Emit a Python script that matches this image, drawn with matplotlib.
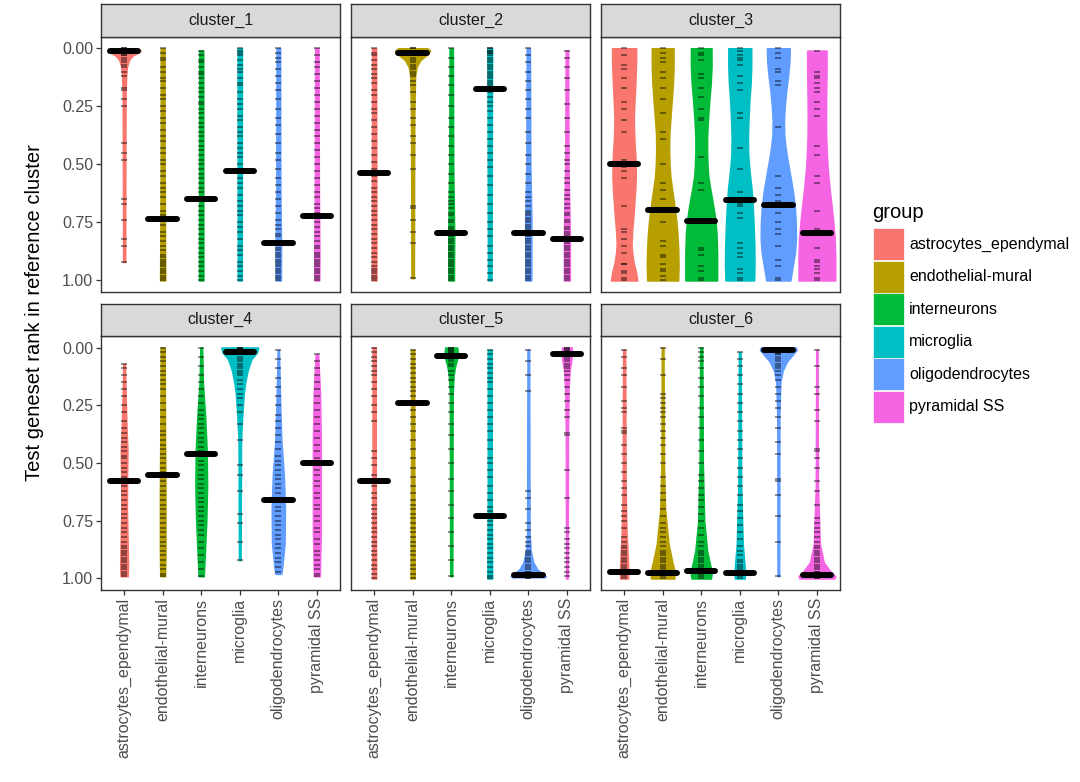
import numpy as np
import matplotlib
matplotlib.use("Agg")
import matplotlib.pyplot as plt
from matplotlib.patches import Rectangle

plt.rcParams['font.family'] = ['Liberation Sans', 'DejaVu Sans']

groups = ["astrocytes_ependymal", "endothelial-mural", "interneurons",
          "microglia", "oligodendrocytes", "pyramidal SS"]
colors = ["#F8766D", "#B79F00", "#00BA38", "#00BFC4", "#619CFF", "#F564E3"]
clusters = ["cluster_1", "cluster_2", "cluster_3", "cluster_4", "cluster_5", "cluster_6"]

# median rank (percent) per group
medians_c1 = [1, 73.6, 64.8, 52.8, 83.8, 72.3]
medians_c2 = [53.8, 1.9, 79.5, 17.5, 79.5, 82]
medians_c3 = [50, 69.7, 74.3, 65.4, 67.5, 79.5]
medians_c4 = [57.7, 55.4, 46, 1.9, 66, 50]
medians_c5 = [57.7, 24.2, 3.7, 72.8, 98.7, 2.9]
medians_c6 = [97.3, 97.5, 96.8, 97.8, 1.2, 98.6]

# violin outline: (rank percent, full width)
shapes_c1 = [
    [(0, 0.55), (1, 0.85), (2, 0.7), (3, 0.45), (5, 0.25), (8, 0.14), (12, 0.1), (20, 0.07), (50, 0.06), (92, 0.05)],
    [(0, 0.1), (50, 0.1), (85, 0.12), (100, 0.13)],
    [(1, 0.1), (100, 0.11)],
    [(0, 0.11), (100, 0.1)],
    [(0, 0.09), (60, 0.1), (85, 0.14), (100, 0.13)],
    [(0, 0.08), (60, 0.1), (90, 0.13), (100, 0.12)],
]
shapes_c2 = [
    [(0, 0.1), (100, 0.12)],
    [(0, 0.75), (1, 0.9), (3, 0.7), (5, 0.4), (8, 0.2), (12, 0.12), (30, 0.08), (99, 0.06)],
    [(0, 0.08), (50, 0.1), (80, 0.15), (100, 0.14)],
    [(0, 0.12), (20, 0.11), (100, 0.09)],
    [(0, 0.08), (50, 0.1), (75, 0.16), (100, 0.15)],
    [(1, 0.06), (50, 0.08), (80, 0.15), (100, 0.15)],
]
shapes_c3 = [
    [(0, 0.62), (5, 0.62), (10, 0.6), (15, 0.58), (20, 0.55), (25, 0.52), (30, 0.5), (35, 0.51), (40, 0.53),
     (45, 0.57), (50, 0.6), (55, 0.6), (60, 0.58), (65, 0.54), (70, 0.5), (74, 0.46), (78, 0.42), (84, 0.38),
     (88, 0.41), (92, 0.48), (96, 0.6), (100, 0.68)],
    [(0, 0.56), (8, 0.56), (15, 0.53), (22, 0.47), (30, 0.4), (37, 0.34), (44, 0.33), (50, 0.35), (55, 0.39),
     (60, 0.47), (65, 0.56), (70, 0.64), (75, 0.71), (80, 0.76), (86, 0.8), (93, 0.82), (100, 0.8)],
    [(0, 0.53), (8, 0.53), (15, 0.49), (22, 0.42), (30, 0.35), (38, 0.3), (45, 0.3), (50, 0.32), (55, 0.36),
     (60, 0.45), (65, 0.56), (70, 0.66), (75, 0.74), (80, 0.79), (88, 0.82), (100, 0.82)],
    [(0, 0.59), (8, 0.59), (15, 0.56), (22, 0.5), (30, 0.45), (38, 0.42), (45, 0.43), (50, 0.47), (55, 0.53),
     (60, 0.6), (67, 0.66), (75, 0.71), (85, 0.75), (93, 0.76), (100, 0.74)],
    [(0, 0.59), (6, 0.57), (12, 0.5), (18, 0.41), (25, 0.33), (31, 0.29), (37, 0.3), (42, 0.36), (48, 0.47),
     (55, 0.62), (62, 0.76), (68, 0.85), (75, 0.9), (82, 0.91), (88, 0.86), (94, 0.74), (100, 0.62)],
    [(1, 0.5), (10, 0.5), (20, 0.48), (30, 0.47), (38, 0.48), (45, 0.51), (52, 0.56), (60, 0.65), (68, 0.76),
     (75, 0.85), (82, 0.92), (90, 0.95), (100, 0.95)],
]
shapes_c4 = [
    [(7, 0.04), (20, 0.07), (35, 0.12), (45, 0.17), (55, 0.15), (70, 0.14), (85, 0.18), (95, 0.2), (99, 0.18)],
    [(0, 0.1), (40, 0.12), (60, 0.14), (90, 0.14), (99, 0.12)],
    [(0, 0.04), (15, 0.08), (30, 0.2), (45, 0.28), (60, 0.3), (75, 0.26), (90, 0.18), (99, 0.13)],
    [(0, 0.95), (2, 0.9), (5, 0.6), (10, 0.4), (15, 0.28), (20, 0.2), (30, 0.12), (40, 0.06), (92, 0.04)],
    [(1, 0.03), (20, 0.08), (40, 0.15), (55, 0.28), (70, 0.34), (85, 0.32), (95, 0.2), (98, 0.15)],
    [(3, 0.06), (20, 0.16), (40, 0.2), (60, 0.2), (80, 0.2), (99, 0.15)],
]
shapes_c5 = [
    [(0, 0.08), (50, 0.08), (100, 0.1)],
    [(1, 0.08), (50, 0.08), (100, 0.1)],
    [(0, 0.3), (2, 0.34), (5, 0.3), (8, 0.2), (12, 0.12), (20, 0.07), (99, 0.05)],
    [(1, 0.1), (60, 0.1), (100, 0.12)],
    [(1, 0.04), (80, 0.06), (88, 0.12), (93, 0.25), (96, 0.45), (98, 0.75), (99, 0.9), (99.5, 0.85)],
    [(0, 0.25), (3, 0.26), (6, 0.22), (10, 0.14), (18, 0.08), (40, 0.05), (100, 0.04)],
]
shapes_c6 = [
    [(1, 0.05), (60, 0.07), (80, 0.12), (90, 0.18), (97, 0.22), (100, 0.2)],
    [(0, 0.04), (50, 0.06), (70, 0.12), (85, 0.3), (93, 0.5), (97, 0.62), (100, 0.6)],
    [(0, 0.05), (50, 0.08), (75, 0.15), (88, 0.3), (94, 0.45), (97, 0.55), (100, 0.5)],
    [(2, 0.04), (60, 0.07), (85, 0.15), (95, 0.25), (98, 0.27), (100, 0.25)],
    [(0, 0.9), (1, 0.95), (3, 0.75), (6, 0.45), (10, 0.22), (15, 0.1), (30, 0.05), (99, 0.04)],
    [(1, 0.03), (60, 0.05), (85, 0.15), (93, 0.35), (97, 0.7), (99, 0.95), (100, 0.9)],
]

# individual gene-set ranks (percent)
ticks_c1 = [
    [0, 0, 1, 1, 1, 2, 2, 2, 3, 3, 4, 5, 6, 7, 8, 10, 12, 17, 18, 22, 25, 41, 45, 48, 65, 67, 74, 82, 85, 92],
    [0, 2, 4, 5, 8, 10, 13, 14, 17, 20, 22, 25, 27, 30, 32, 35, 38, 40, 43, 45, 48, 50, 53, 55, 58, 60, 62, 64, 67, 70,
     72, 74, 76, 79, 81, 83, 85, 87, 89, 90, 91, 92, 93, 94, 95, 96, 97, 98, 99, 100],
    [1, 3, 5, 6, 8, 10, 11, 13, 15, 17, 19, 21, 23, 24, 26, 28, 30, 32, 34, 36, 38, 40, 42, 44, 46, 48, 50, 52, 54, 56,
     58, 60, 62, 64, 66, 68, 70, 72, 74, 76, 78, 80, 82, 84, 86, 88, 90, 92, 94, 96, 98, 100],
    [0, 1, 2, 3, 5, 7, 9, 10, 13, 15, 16, 19, 22, 24, 26, 29, 31, 34, 36, 38, 41, 43, 45, 47, 50, 53, 56, 58, 60, 63,
     66, 68, 70, 72, 75, 77, 79, 82, 85, 87, 89, 92, 94, 96, 98, 100],
    [0, 2, 4, 6, 9, 12, 15, 18, 22, 26, 30, 33, 37, 41, 45, 48, 52, 56, 59, 62, 65, 68, 71, 74, 76, 78, 80, 81, 83, 84,
     86, 87, 88, 89, 90, 91, 92, 93, 94, 95, 96, 97, 98, 99, 100],
    [0, 3, 6, 8, 11, 14, 17, 20, 23, 26, 29, 32, 35, 38, 41, 44, 47, 50, 53, 56, 59, 62, 64, 67, 69, 71, 73, 75, 77, 79,
     81, 83, 85, 86, 88, 89, 90, 91, 92, 93, 94, 95, 96, 97, 98, 99, 100],
]
ticks_c2 = [
    [0, 2, 3, 5, 7, 9, 11, 13, 15, 18, 20, 23, 26, 28, 31, 34, 37, 40, 43, 46, 49, 52, 55, 57, 60, 62, 64, 66, 68, 70,
     72, 74, 76, 78, 80, 82, 84, 86, 88, 90, 92, 94, 95, 96, 97, 98, 99, 100],
    [0, 0, 1, 1, 2, 2, 3, 3, 4, 5, 6, 7, 8, 9, 10, 11, 12, 14, 16, 19, 23, 26, 30, 33, 38, 41, 46, 52, 68, 69, 74, 79, 84, 99],
    [0, 4, 8, 12, 16, 20, 25, 30, 34, 38, 42, 46, 50, 54, 58, 62, 64, 66, 67, 69, 71, 72, 74, 75, 77, 78, 80, 81, 82, 83,
     84, 85, 86, 87, 88, 89, 90, 91, 92, 93, 94, 95, 96, 97, 98, 99, 100],
    [0, 0, 1, 1, 2, 2, 3, 4, 5, 6, 7, 8, 9, 10, 11, 12, 13, 14, 15, 16, 17, 18, 19, 21, 23, 25, 27, 30, 33, 36,
     39, 42, 45, 48, 51, 55, 59, 63, 67, 71, 75, 78, 81, 85, 88, 91, 94, 97, 100],
    [0, 3, 6, 10, 14, 18, 22, 26, 30, 36, 41, 46, 50, 54, 58, 62, 64, 66, 68, 70, 71, 72, 73, 74, 75, 76, 77, 78, 79, 80,
     81, 82, 83, 84, 85, 86, 87, 88, 89, 90, 91, 92, 93, 94, 95, 96, 97, 98, 99, 100],
    [1, 4, 8, 13, 18, 24, 30, 36, 42, 45, 48, 50, 53, 56, 58, 61, 63, 65, 67, 69, 71, 72, 74, 75, 77, 78, 79, 80, 81, 82,
     83, 84, 85, 86, 87, 88, 89, 90, 91, 92, 93, 94, 95, 96, 97, 98, 99, 100],
]
ticks_c3 = [
    [0, 3, 7, 9, 13, 17, 23, 26, 31, 36, 48, 51, 53, 56, 68, 78, 79, 82, 85, 88, 93, 93, 96, 97, 99, 100],
    [0, 2, 4, 6, 10, 13, 17, 22, 28, 36, 39, 50, 58, 61, 65, 75, 83, 85, 89, 90, 93, 95, 96, 98, 100],
    [0, 2, 3, 5, 11, 13, 17, 21, 26, 30, 31, 47, 58, 61, 86, 87, 89, 94, 96, 99, 100],
    [0, 1, 3, 4, 5, 7, 12, 15, 18, 28, 30, 43, 52, 62, 65, 67, 68, 71, 73, 84, 86, 88, 90, 95, 97, 99, 100],
    [0, 2, 4, 9, 10, 14, 16, 34, 55, 60, 63, 66, 67, 71, 75, 78, 80, 85, 91, 94, 99, 100],
    [1, 10, 12, 13, 15, 17, 19, 23, 26, 29, 42, 46, 55, 58, 70, 78, 80, 86, 91, 92, 94, 95, 97, 99, 100],
]
ticks_c4 = [
    [7, 9, 12, 15, 18, 21, 25, 28, 32, 35, 37, 39, 41, 43, 45, 47, 48, 50, 52, 54, 56, 58, 60, 62, 64, 66, 68, 70, 72, 74,
     76, 78, 80, 82, 84, 86, 87, 88, 89, 90, 91, 92, 93, 94, 95, 96, 97, 98, 99],
    [0, 2, 4, 6, 8, 10, 12, 14, 16, 18, 21, 24, 27, 30, 33, 36, 38, 40, 42, 44, 46, 48, 50, 52, 54, 56, 58, 60, 62, 64,
     66, 68, 70, 72, 74, 76, 78, 80, 82, 84, 86, 88, 90, 92, 94, 96, 98, 99],
    [0, 4, 8, 12, 15, 18, 21, 24, 27, 29, 31, 33, 35, 37, 39, 41, 43, 45, 47, 49, 51, 53, 55, 57, 59, 61, 63, 65, 67, 69,
     71, 73, 75, 77, 79, 81, 84, 87, 90, 93, 96, 99],
    [0, 0, 0, 1, 1, 1, 2, 2, 2, 3, 3, 4, 5, 6, 7, 8, 9, 10, 11, 12, 14, 16, 18, 20, 22, 25, 28, 33, 40, 51, 55, 62, 72, 76, 84, 92],
    [1, 5, 9, 13, 17, 21, 25, 29, 32, 35, 38, 41, 44, 47, 49, 51, 53, 55, 57, 59, 61, 63, 65, 67, 69, 71, 73, 75, 77, 79,
     81, 83, 85, 87, 89, 91, 93, 95, 97],
    [3, 6, 9, 12, 15, 18, 21, 24, 27, 30, 33, 36, 39, 42, 45, 48, 50, 53, 55, 58, 60, 63, 65, 68, 70, 73, 75, 78, 80, 83,
     85, 88, 90, 92, 94, 96, 98, 99],
]
ticks_c5 = [
    [0, 2, 4, 6, 8, 10, 12, 15, 18, 21, 25, 28, 32, 45, 48, 51, 55, 58, 60, 63, 65, 68, 70, 72, 74, 76, 78, 80, 82, 84,
     86, 88, 90, 92, 94, 96, 98, 100],
    [1, 3, 5, 7, 9, 11, 13, 15, 17, 19, 21, 24, 27, 30, 33, 36, 40, 44, 48, 52, 56, 60, 63, 66, 68, 70, 72, 74, 76, 78,
     80, 82, 84, 86, 88, 90, 92, 94, 96, 98, 100],
    [0, 0, 1, 1, 2, 2, 3, 3, 4, 5, 6, 7, 8, 10, 12, 14, 17, 20, 24, 28, 33, 38, 44, 50, 57, 62, 68, 74, 80, 86, 92, 99],
    [1, 3, 5, 7, 9, 11, 13, 15, 18, 21, 24, 27, 30, 33, 36, 40, 44, 48, 50, 53, 56, 60, 63, 66, 69, 71, 73, 75, 77, 79,
     81, 83, 85, 87, 89, 91, 93, 95, 97, 99, 100],
    [1, 6, 12, 19, 62, 65, 70, 76, 79, 82, 84, 86, 88, 89, 90, 91, 92, 93, 94, 95, 96, 97, 97, 98, 98, 99, 99, 99, 100, 100],
    [0, 0, 1, 1, 2, 2, 3, 3, 4, 5, 6, 7, 8, 9, 10, 12, 14, 17, 20, 23, 27, 30, 37, 38, 53, 65, 78, 80, 83, 85, 87, 89,
     91, 93, 95, 97, 99],
]
ticks_c6 = [
    [1, 4, 9, 12, 17, 23, 26, 28, 35, 36, 37, 42, 46, 50, 54, 58, 61, 64, 68, 71, 73, 75, 78, 82, 84, 86, 87, 88, 89, 90,
     91, 92, 93, 94, 95, 96, 97, 98, 99, 100],
    [0, 5, 12, 20, 22, 24, 26, 28, 30, 33, 36, 39, 42, 46, 50, 56, 60, 63, 66, 70, 73, 76, 78, 80, 82, 84, 86, 88, 89, 90,
     91, 92, 93, 94, 95, 96, 97, 98, 99, 100],
    [0, 2, 4, 6, 9, 13, 17, 21, 26, 30, 35, 40, 45, 50, 55, 58, 61, 64, 66, 69, 72, 75, 78, 81, 84, 86, 88, 89, 90, 91,
     92, 93, 94, 95, 96, 97, 98, 99, 100],
    [2, 5, 8, 12, 16, 20, 24, 28, 32, 36, 40, 44, 48, 52, 56, 60, 64, 68, 71, 74, 77, 80, 83, 86, 88, 90, 92, 93, 94, 95,
     96, 97, 98, 99, 100],
    [0, 0, 0, 1, 1, 1, 2, 2, 3, 3, 4, 5, 6, 7, 8, 9, 10, 12, 14, 17, 20, 23, 26, 30, 35, 41, 46, 57, 58, 64, 73, 84, 99],
    [1, 8, 17, 20, 27, 32, 44, 45, 48, 52, 58, 62, 68, 74, 76, 78, 80, 82, 84, 86, 87, 88, 89, 90, 91, 92, 93, 94, 95, 96,
     97, 97, 98, 98, 99, 99, 100, 100],
]

all_medians = [medians_c1, medians_c2, medians_c3, medians_c4, medians_c5, medians_c6]
all_shapes = [shapes_c1, shapes_c2, shapes_c3, shapes_c4, shapes_c5, shapes_c6]
all_ticks = [ticks_c1, ticks_c2, ticks_c3, ticks_c4, ticks_c5, ticks_c6]

W, H = 1080, 782
fig = plt.figure(figsize=(W / 100, H / 100), dpi=100)

lefts = [101, 351, 601]
pw = 239
rows = [(36.7, 292), (336, 590)]
strip_h = 32.5
border = "#333333"

for k, name in enumerate(clusters):
    r, c = divmod(k, 3)
    top, bot = rows[r]
    ax = fig.add_axes([lefts[c] / W, 1 - bot / H, pw / W, (bot - top) / H])
    sax = fig.add_axes([lefts[c] / W, 1 - top / H, pw / W, strip_h / H])

    for i, g in enumerate(groups):
        pos = i + 1
        shp = np.array(all_shapes[k][i], dtype=float)
        ys = shp[:, 0] / 100
        half = shp[:, 1] / 2
        ax.fill_betweenx(ys, pos - half, pos + half, facecolor=colors[i],
                         edgecolor=colors[i], lw=1.2, joinstyle="round", zorder=2)
        t = np.array(all_ticks[k][i], dtype=float) / 100
        ax.plot(np.full(len(t), pos), t, ls="none", marker="_", ms=4, mew=1.2,
                color="black", alpha=0.5, zorder=3)
        m = all_medians[k][i] / 100
        ax.plot([pos - 0.37, pos + 0.37], [m, m], color="black", lw=4.3,
                solid_capstyle="round", zorder=4)

    ax.set_xlim(0.4, 6.6)
    ax.set_ylim(1.05, -0.05)
    ax.set_xticks(range(1, 7))
    ax.set_yticks([0, 0.25, 0.5, 0.75, 1.0])
    ax.tick_params(length=3.5, width=0.9, color=border, labelcolor="#4D4D4D",
                   labelsize=11.5, pad=2)
    if r == 1:
        ax.set_xticklabels(groups, rotation=90)
    else:
        ax.tick_params(axis="x", bottom=False, labelbottom=False)
    if c == 0:
        ax.set_yticklabels(["0.00", "0.25", "0.50", "0.75", "1.00"])
    else:
        ax.tick_params(axis="y", left=False, labelleft=False)
    for s in ax.spines.values():
        s.set_color(border)
        s.set_linewidth(1.0)

    sax.set_facecolor("#D9D9D9")
    sax.set_xticks([])
    sax.set_yticks([])
    for s in sax.spines.values():
        s.set_color(border)
        s.set_linewidth(1.0)
    sax.text(0.5, 0.5, name, ha="center", va="center", fontsize=11.5,
             color="#1A1A1A", transform=sax.transAxes)

fig.text(35 / W, 1 - 313 / H, "Test geneset rank in reference cluster",
         rotation=90, ha="center", va="center", fontsize=14.5, color="black")

# legend
fig.text(872 / W, 1 - 213 / H, "group", ha="left", va="center", fontsize=14.5)
for i, g in enumerate(groups):
    y0 = 228 + i * 32.5
    fig.patches.append(Rectangle((873 / W, 1 - (y0 + 32) / H), 31 / W, 32 / H,
                                 transform=fig.transFigure, facecolor=colors[i],
                                 edgecolor="white", lw=0.5))
    fig.text(909 / W, 1 - (y0 + 16) / H, g, ha="left", va="center",
             fontsize=11.5, color="black")

fig.savefig("out.png", dpi=100)
